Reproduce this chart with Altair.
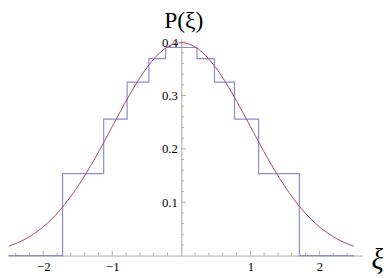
import altair as alt
import pandas as pd

# Normal density curve
curve_x = [-2.5, -2.25, -2.0, -1.75, -1.5, -1.25, -1.0, -0.75, -0.5, -0.25, 0.0,
           0.25, 0.5, 0.75, 1.0, 1.25, 1.5, 1.75, 2.0, 2.25, 2.5]
curve_y = [0.0175, 0.0317, 0.0540, 0.0863, 0.1295, 0.1826, 0.2420, 0.3011, 0.3521, 0.3867, 0.3989,
           0.3867, 0.3521, 0.3011, 0.2420, 0.1826, 0.1295, 0.0863, 0.0540, 0.0317, 0.0175]

# Step function (bin edges and heights)
step_x = [-2.5, -1.72, -1.125, -0.785, -0.47, -0.227, 0.227, 0.48, 0.77, 1.12, 1.71, 2.5]
step_y = [0.0, 0.1536, 0.2556, 0.325, 0.369, 0.390, 0.369, 0.325, 0.2556, 0.1536, 0.0, 0.0]

x_labels = [-2, -1, 1, 2]
y_labels = [0.1, 0.2, 0.3, 0.4]
x_minor = [round(-2.4 + 0.2 * i, 2) for i in range(25)]
y_minor = [round(0.02 * i, 2) for i in range(1, 21)]

X_DOMAIN = [-2.511, 2.624]
Y_DOMAIN = [0, 0.4073]

curve_df = pd.DataFrame({"x": curve_x, "y": curve_y})
step_df = pd.DataFrame({"x": step_x, "y": step_y})
xv = [v for v in x_minor if abs(v) > 1e-9]
xmin_df = pd.DataFrame({"v": xv, "major": [abs(v - round(v)) < 1e-9 for v in xv]})
ymin_df = pd.DataFrame({"v": y_minor, "major": [abs(v * 10 - round(v * 10)) < 1e-9 for v in y_minor]})

SERIF = "Liberation Serif, Times New Roman, serif"
AXIS_GRAY = "#a8a8a8"

xscale = alt.Scale(domain=X_DOMAIN, nice=False, zero=False)
yscale = alt.Scale(domain=Y_DOMAIN, nice=False, zero=False)

xaxis = alt.Axis(values=x_labels, format="d", ticks=False, grid=False, domainColor=AXIS_GRAY,
                 labelFont=SERIF, labelFontSize=13, labelColor="#000", labelPadding=5,
                 title="ξ", titleFont=SERIF, titleFontSize=29, titleFontStyle="italic",
                 titleFontWeight="normal", titleAngle=0, titleAlign="center",
                 titleBaseline="alphabetic", titleX=377, titleY=13, titleColor="#000")
yaxis = alt.Axis(values=y_labels, format=".1f", ticks=False, grid=False, domainColor=AXIS_GRAY,
                 offset=-177,
                 labelFont=SERIF, labelFontSize=13, labelColor="#000", labelPadding=4,
                 title="P(ξ)", titleFont=SERIF, titleFontSize=24, titleFontWeight="normal",
                 titleAngle=0, titleAlign="center", titleBaseline="alphabetic",
                 titleX=2, titleY=-11, titleColor="#000")

curve = alt.Chart(curve_df).mark_line(color="#a8407c", strokeWidth=1, interpolate="monotone").encode(
    x=alt.X("x:Q", scale=xscale, axis=xaxis),
    y=alt.Y("y:Q", scale=yscale, axis=yaxis),
)

step = alt.Chart(step_df).mark_line(color="#8c8cd0", strokeWidth=1.2, interpolate="step-after").encode(
    x=alt.X("x:Q", scale=xscale),
    y=alt.Y("y:Q", scale=yscale),
)

xticks = alt.Chart(xmin_df).transform_calculate(
    zero="0", len="datum.major ? 0.009 : 0.005"
).mark_rule(color=AXIS_GRAY, strokeWidth=1).encode(
    x=alt.X("v:Q", scale=xscale),
    y=alt.Y("zero:Q", scale=yscale),
    y2="len:Q",
)

yticks = alt.Chart(ymin_df).transform_calculate(
    zero="0", len="datum.major ? 0.07 : 0.04"
).mark_rule(color=AXIS_GRAY, strokeWidth=1).encode(
    y=alt.Y("v:Q", scale=yscale),
    x=alt.X("zero:Q", scale=xscale),
    x2="len:Q",
)

chart = alt.layer(xticks, yticks, step, curve).properties(
    width=362, height=222,
    autosize=alt.AutoSizeParams(type="none"),
    padding={"left": 0, "top": 28, "right": 21, "bottom": 20},
    background="white",
).configure_view(stroke=None)

chart.save("out.html", embed_options={"renderer": "svg", "actions": False})
